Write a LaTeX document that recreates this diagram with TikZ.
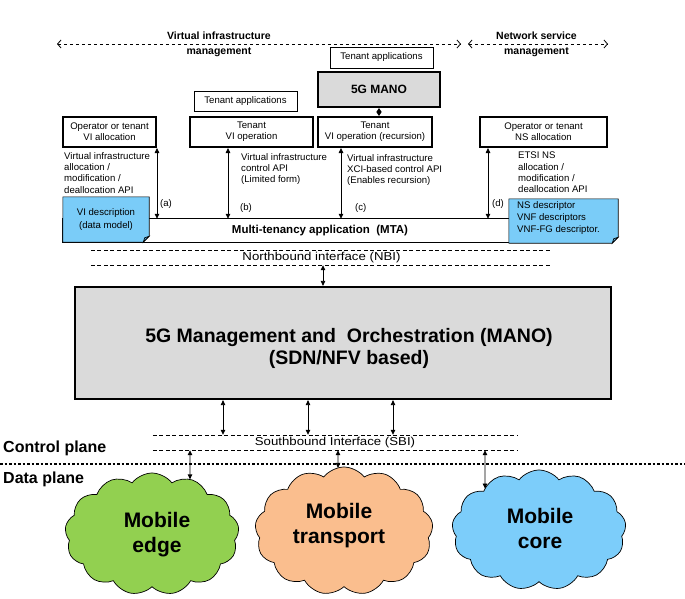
\documentclass[tikz,border=0pt]{standalone}
\usepackage{fontspec}
\setmainfont{Liberation Sans}
\newfontfamily\ifacefont{Liberation Sans}[FakeStretch=1.15]
\usetikzlibrary{arrows.meta,shapes.symbols,backgrounds,intersections}
\definecolor{noteblue}{RGB}{122,204,248}
\definecolor{notefold}{RGB}{90,170,220}
\definecolor{manogray}{RGB}{218,218,218}
\definecolor{cgreen}{RGB}{146,208,80}
\definecolor{corange}{RGB}{250,190,142}
\definecolor{cblue}{RGB}{124,205,250}
\begin{document}
\begin{tikzpicture}[x=1pt,y=-1pt,
  small/.style={font=\fontsize{9.6}{11.3}\selectfont},
  thickbox/.style={draw, line width=2pt, fill=white, align=center, inner sep=0pt, small},
  thinbox/.style={draw, line width=0.7pt, fill=white, align=center, inner sep=0pt, small},
  dbl/.style={line width=0.8pt, {Triangle[length=5pt,width=4.5pt]}-{Triangle[length=5pt,width=4.5pt]}},
  mgmt/.style={line width=0.8pt, dash pattern=on 3.5pt off 2.5pt, {Straight Barb[length=3.5pt,width=8pt]}-{Straight Barb[length=3.5pt,width=8pt]}},
  ifline/.style={line width=0.6pt, dash pattern=on 4pt off 2.5pt},
  iface/.style={inner sep=0pt, font=\ifacefont\fontsize{11.5}{14}\selectfont},
  head/.style={font=\fontsize{10.5}{15}\selectfont\bfseries, align=center, inner sep=0pt},
  txt/.style={small, align=left, anchor=north west, inner sep=0pt},
  lbl/.style={small, anchor=west, inner sep=0pt},
  note/.style={draw, line width=0.6pt, fill=noteblue},
  cloudnode/.style={cloud, cloud puffs=13, cloud puff arc=105, draw, line width=0.7pt, inner sep=0pt},
  cloudtext/.style={align=center, font=\fontsize{21}{25}\selectfont\bfseries, inner sep=0pt},
  plane/.style={font=\fontsize{16}{18}\selectfont\bfseries, anchor=west, inner sep=0pt}
]
\useasboundingbox (0,0) rectangle (685,599);

% management headers
\node[head] (vimt) at (219,44.5) {Virtual infrastructure\\management};
\coordinate (vl) at (57,44); \coordinate (vr) at (461,44);
\draw[mgmt] (vl) -- (vr);
\node[head] (nsmt) at (536.5,44.5) {Network service\\management};
\coordinate (nl) at (468,44); \coordinate (nr) at (608,44);
\draw[mgmt] (nl) -- (nr);

% upper boxes
\node[thinbox, minimum width=103, minimum height=21] (ta1) at (381.5,57.5) {Tenant applications};
\node[thinbox, minimum width=103, minimum height=20] (ta2) at (245.5,101) {Tenant applications};
\node[thickbox, fill=manogray, minimum width=122, minimum height=35, font=\fontsize{12}{14}\selectfont\bfseries] (m5) at (379,89.5) {5G MANO};
\node[thickbox, minimum width=93, minimum height=30] (b1) at (109.5,132) {Operator or tenant\\VI allocation};
\node[thickbox, minimum width=123, minimum height=30] (b2) at (251.5,132) {Tenant\\VI operation};
\node[thickbox, minimum width=114, minimum height=30] (b3) at (375,132) {Tenant\\VI operation (recursion)};
\node[thickbox, minimum width=127, minimum height=30] (b4) at (543.5,132) {Operator or tenant\\NS allocation};
\draw[line width=0.8pt, {Triangle[length=4pt,width=5pt]}-{Triangle[length=4pt,width=5pt]}] (m5.south) -- (m5.south |- b3.north);

% API texts
\node[txt] (t1) at (64,152) {Virtual infrastructure\\allocation /\\modification /\\deallocation API};
\node[txt] (t2) at (241,153) {Virtual infrastructure\\control API\\(Limited form)};
\node[txt] (t3) at (347,154) {Virtual infrastructure\\XCI-based control API\\(Enables recursion)};
\node[txt] (t4) at (518,152) {ETSI NS\\allocation /\\modification /\\deallocation API};

% MTA and notes
\node[inner sep=0pt, minimum width=514, minimum height=23, font=\fontsize{11.5}{13}\selectfont\bfseries] (mta) at (320,230.5) {Multi-tenancy application\ \ (MTA)};
\node[inner sep=0pt, minimum width=86, minimum height=45, align=center, font=\fontsize{9.6}{13}\selectfont] (vi) at (106,219.5) {VI description\\(data model)};
\node[inner sep=0pt, minimum width=109, minimum height=44] (ns) at (563.5,221) {};
\node[txt, font=\fontsize{9.6}{12}\selectfont] (nst) at (517,201) {NS descriptor\\VNF descriptors\\VNF-FG descriptor.};
\begin{pgfonlayer}{background}
  \draw[line width=0.8pt] (mta.north west) rectangle (mta.south east);
  \draw[note] (vi.north west) -- (vi.north east) -- ([yshift=6pt]vi.south east) -- ([xshift=-6pt]vi.south east) -- (vi.south west) -- cycle;
  \draw[line width=0.6pt, fill=notefold] ([yshift=6pt]vi.south east) -- ([xshift=-4.5pt,yshift=4.5pt]vi.south east) -- ([xshift=-6pt]vi.south east) -- cycle;
  \draw[note] (ns.north west) -- (ns.north east) -- ([yshift=6pt]ns.south east) -- ([xshift=-6pt]ns.south east) -- (ns.south west) -- cycle;
  \draw[line width=0.6pt, fill=notefold] ([yshift=6pt]ns.south east) -- ([xshift=-4.5pt,yshift=4.5pt]ns.south east) -- ([xshift=-6pt]ns.south east) -- cycle;
\end{pgfonlayer}

% API arrows
\path (b1.south east) coordinate (pa);
\path (b2.south west) ++(39,0) coordinate (pb);
\path (b3.south west) ++(24,0) coordinate (pc);
\path (b4.south west) ++(9,0) coordinate (pd);
\draw[dbl] (pa) -- (pa |- mta.north);
\draw[dbl] (pb) -- (pb |- mta.north);
\draw[dbl] (pc) -- (pc |- mta.north);
\draw[dbl] (pd) -- (pd |- mta.north);
\node[lbl] (la) at (160,204) {(a)};
\node[lbl] (lb) at (240,208) {(b)};
\node[lbl] (lc) at (355,208) {(c)};
\node[lbl] (ld) at (492,204) {(d)};

% NBI
\node[iface, minimum width=461, minimum height=15] (nbi) at (321.5,257.5) {Northbound interface (NBI)};
\draw[ifline] (nbi.north west) -- (nbi.north east);
\draw[ifline] (nbi.south west) -- (nbi.south east);

% MANO
\node[draw, line width=2.2pt, fill=manogray, minimum width=536, minimum height=112, inner sep=0pt] (mano) at (343,343) {};
\node[align=center, inner sep=0pt, font=\fontsize{19.5}{22}\selectfont\bfseries] (manot) at (349,348) {5G Management and\ \ Orchestration (MANO)\\(SDN/NFV based)};
\path (nbi.south) ++(1.5,0) coordinate (nb);
\draw[dbl] (nb) -- (nb |- mano.north);

% SBI
\node[iface, minimum width=364, minimum height=15] (sbi) at (335,442.5) {Southbound Interface (SBI)};
\draw[ifline] (sbi.north west) -- (sbi.north east);
\draw[ifline] (sbi.south west) -- (sbi.south east);
\coordinate (s1) at (223,0); \coordinate (s2) at (308,0); \coordinate (s3) at (393,0);
\draw[dbl] (mano.south -| s1) -- (sbi.north -| s1);
\draw[dbl] (mano.south -| s2) -- (sbi.north -| s2);
\draw[dbl] (mano.south -| s3) -- (sbi.north -| s3);

% planes
\node[plane] (cp) at (3,448) {Control plane};
\node[plane] (dp) at (3,479) {Data plane};
\coordinate (dl) at (0,464); \coordinate (dr) at (685,464);
\draw[line width=2.8pt, dash pattern=on 2.5pt off 2pt] (dl) -- (dr);

% clouds
\node[cloudnode, fill=cgreen, minimum width=174, minimum height=122, name path=edgep] (edge) at (152,534) {};
\node[cloudnode, fill=corange, minimum width=178, minimum height=128, name path=transp] (trans) at (344,531) {};
\node[cloudnode, fill=cblue, minimum width=174, minimum height=120, name path=corep] (core) at (539,530) {};
\node[cloudtext] (edget) at (157,534.5) {Mobile\\edge};
\node[cloudtext] (transt) at (339,526) {Mobile\\transport};
\node[cloudtext] (coret) at (540,528.5) {Mobile\\core};
\coordinate (c1) at (190,0); \coordinate (c2) at (338,0); \coordinate (c3) at (485,0);
\path[name path=v1] (sbi.south -| c1) -- (edge.center -| c1);
\path[name path=v2] (sbi.south -| c2) -- (trans.center -| c2);
\path[name path=v3] (sbi.south -| c3) -- (core.center -| c3);
\path[name intersections={of=v1 and edgep, sort by=v1, by={e1}}];
\path[name intersections={of=v2 and transp, sort by=v2, by={e2}}];
\path[name intersections={of=v3 and corep, sort by=v3, by={e3}}];
\draw[dbl] (sbi.south -| c1) -- (e1);
\draw[dbl] (sbi.south -| c2) -- (e2);
\draw[dbl] (sbi.south -| c3) -- (e3);
\end{tikzpicture}
\end{document}
